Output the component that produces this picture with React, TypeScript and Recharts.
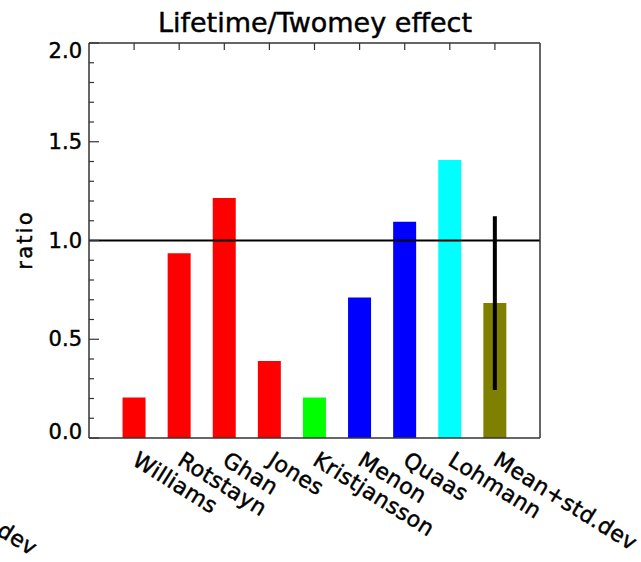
import React from 'react';
import { BarChart, Bar, XAxis, YAxis, Cell, ReferenceLine, ErrorBar } from 'recharts';

const categories = ['Williams', 'Rotstayn', 'Ghan', 'Jones', 'Kristjansson', 'Menon', 'Quaas', 'Lohmann', 'Mean+std.dev'];
const positions = [1, 2, 3, 4, 5, 6, 7, 8, 9];
const ratios = [0.205, 0.935, 1.215, 0.39, 0.205, 0.712, 1.095, 1.407, 0.683];
const stdDev = [null, null, null, null, null, null, null, null, 0.44];
const barColors = ['#ff0000', '#ff0000', '#ff0000', '#ff0000', '#00ff00', '#0000ff', '#0000ff', '#00ffff', '#808000'];
const yTicks = [0, 0.1, 0.2, 0.3, 0.4, 0.5, 0.6, 0.7, 0.8, 0.9, 1.0, 1.1, 1.2, 1.3, 1.4, 1.5, 1.6, 1.7, 1.8, 1.9, 2.0];
const yMajor = [0, 0.5, 1.0, 1.5, 2.0];
const title = 'Lifetime/Twomey effect';
const yLabel = 'ratio';
const strayLabel = 'Mean+std.dev';

const data = categories.map((name, i) => ({ pos: positions[i], name, ratio: ratios[i], err: stdDev[i] }));

const FONT = '"DejaVu Sans", sans-serif';
const AXIS = '#333';
const ANGLE = 32;
const TXT = { fontFamily: FONT, fill: '#000', stroke: '#000', strokeWidth: 0.45 };

const isMajor = (v: number) => yMajor.some((m) => Math.abs(m - v) < 1e-6);

const labelShift = (v: number) => (Math.abs(v - 2) < 1e-6 ? 8 : Math.abs(v) < 1e-6 ? -6 : 0);

const LeftTick = (props: any) => {
  const { x, y, payload } = props;
  const v = payload.value as number;
  const major = isMajor(v);
  return (
    <g>
      <line x1={x} x2={x + (major ? 10 : 5)} y1={y} y2={y} stroke={AXIS} strokeWidth={1.2} />
      {major && (
        <text x={x - 7} y={y + labelShift(v)} textAnchor="end" dominantBaseline="central" fontSize={21} {...TXT}>
          {v.toFixed(1)}
        </text>
      )}
    </g>
  );
};

const RightTick = (props: any) => {
  const { x, y, payload } = props;
  const major = isMajor(payload.value);
  return <line x1={x} x2={x - (major ? 10 : 5)} y1={y} y2={y} stroke={AXIS} strokeWidth={1.2} />;
};

const TopTick = (props: any) => {
  const { x, y } = props;
  return <line x1={x} x2={x} y1={y} y2={y + 7} stroke={AXIS} strokeWidth={1.2} />;
};

const BottomTick = (props: any) => {
  const { x, y, payload } = props;
  const name = categories[positions.indexOf(payload.value)] ?? '';
  const tx = x - 3;
  const ty = y + 26;
  return (
    <text x={tx} y={ty} transform={`rotate(${ANGLE} ${tx} ${ty})`} textAnchor="start" fontSize={22} letterSpacing={0.35} {...TXT}>
      {name}
    </text>
  );
};

export default function App() {
  return (
    <div style={{ position: 'absolute', left: 0, top: 0, width: 641, height: 562, background: '#fff', overflow: 'hidden' }}>
      <BarChart width={641} height={562} data={data} margin={{ top: 0, right: 0, bottom: 0, left: 0 }}>
        <XAxis
          xAxisId="b"
          dataKey="pos"
          type="number"
          domain={[0, 10]}
          ticks={positions}
          orientation="bottom"
          height={124}
          tickSize={0}
          tickMargin={0}
          tickLine={false}
          axisLine={{ stroke: AXIS, strokeWidth: 1.5 }}
          tick={<BottomTick />}
          interval={0}
        />
        <XAxis
          xAxisId="t"
          dataKey="pos"
          type="number"
          domain={[0, 10]}
          ticks={positions}
          orientation="top"
          height={43}
          tickSize={0}
          tickMargin={0}
          tickLine={false}
          axisLine={{ stroke: AXIS, strokeWidth: 1.5 }}
          tick={<TopTick />}
          interval={0}
        />
        <YAxis
          yAxisId="l"
          type="number"
          domain={[0, 2]}
          ticks={yTicks}
          orientation="left"
          width={89}
          tickSize={0}
          tickMargin={0}
          tickLine={false}
          axisLine={{ stroke: AXIS, strokeWidth: 1.5 }}
          tick={<LeftTick />}
          interval={0}
          label={() => (
            <text x={25} y={240} transform="rotate(-90 25 240)" textAnchor="middle" dominantBaseline="central" fontSize={21} letterSpacing={2.2} {...TXT}>
              {yLabel}
            </text>
          )}
        />
        <YAxis
          yAxisId="r"
          type="number"
          domain={[0, 2]}
          ticks={yTicks}
          orientation="right"
          width={101}
          tickSize={0}
          tickMargin={0}
          tickLine={false}
          axisLine={{ stroke: AXIS, strokeWidth: 1.5 }}
          tick={<RightTick />}
          interval={0}
        />
        <Bar dataKey="ratio" xAxisId="b" yAxisId="l" barSize={23} isAnimationActive={false}>
          {data.map((d, i) => (
            <Cell key={d.name} fill={barColors[i]} />
          ))}
          <ErrorBar dataKey="err" width={0} strokeWidth={4} stroke="#000" direction="y" isAnimationActive={false} />
        </Bar>
        <ReferenceLine y={1} xAxisId="b" yAxisId="l" stroke="#000" strokeWidth={2} ifOverflow="extendDomain" />
        <text x={315} y={32} textAnchor="middle" fontSize={27} {...TXT}>
          {title}
        </text>
      </BarChart>
      <svg width={641} height={562} style={{ position: 'absolute', left: 0, top: 0, pointerEvents: 'none' }}>
        <text x={31} y={556} transform={`rotate(${ANGLE} 31 556)`} textAnchor="end" fontSize={22} letterSpacing={0.35} {...TXT}>
          {strayLabel}
        </text>
      </svg>
    </div>
  );
}
